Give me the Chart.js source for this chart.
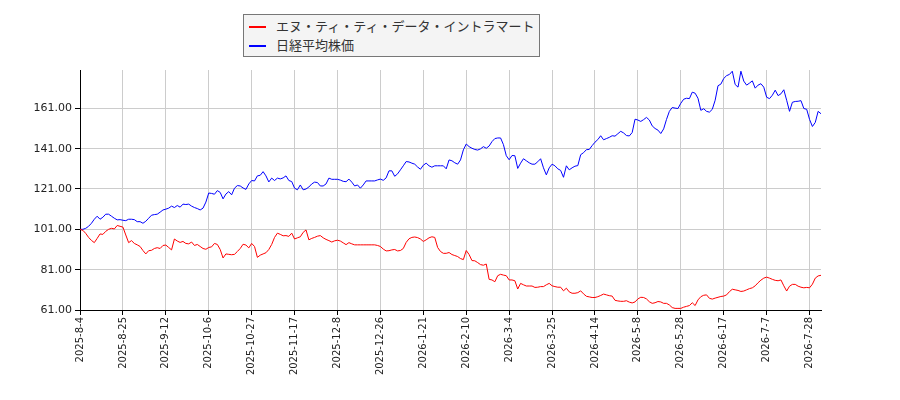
<!DOCTYPE html>
<html>
<head>
<meta charset="utf-8">
<script src="https://cdn.jsdelivr.net/npm/chart.js@4.4.1/dist/chart.umd.min.js"></script>
<style>
  body { margin: 0; background: #fff; }
  #wrap { position: relative; width: 900px; height: 400px; }
  #legend {
    position: absolute; left: 243px; top: 14px; width: 297px; height: 43px;
    box-sizing: border-box; border: 1px solid #777; background: #f4f4f4;
    font-family: "Noto Sans CJK JP", "Noto Sans", sans-serif; font-size: 13px; color: #333;
  }
  #legend .row { position: absolute; left: 5px; height: 18px; line-height: 18px; white-space: nowrap; }
  #legend .swatch { display: inline-block; width: 17px; height: 2px; vertical-align: middle; margin-right: 10px; }
</style>
</head>
<body>
<div id="wrap">
  <canvas id="chart" width="900" height="400"></canvas>
  <div id="legend"></div>
</div>
<script>
// ---------- DATA ----------
const seriesNames = ["エヌ・ティ・ティ・データ・イントラマート", "日経平均株価"];
const seriesColors = ["#ff0000", "#0000ff"];

const tickLabels = [
  "2025-8-4", "2025-8-25", "2025-9-12", "2025-10-6", "2025-10-27", "2025-11-17",
  "2025-12-8", "2025-12-26", "2026-1-21", "2026-2-10", "2026-3-4", "2026-3-25",
  "2026-4-14", "2026-5-8", "2026-5-28", "2026-6-17", "2026-7-7", "2026-7-28"
];
const tickStep = 15; // trading days between labels
const yTicks = [61, 81, 101, 121, 141, 161];

// NTT DATA INTRAMART (relative, start = 101)
const intramart = [
  101, 100.5, 99, 97, 95.5, 94.4, 96.5, 98.7, 98.5, 100,
  101, 101.5, 101.2, 102.9, 102.5, 102.1, 98.2, 94.4, 95.4, 94,
  93.3, 92.5, 90.5, 88.8, 90.4, 90.6, 91.5, 91.9, 91.5, 93,
  93.2, 92, 90.8, 96.2, 95.2, 94.5, 95, 94, 93.8, 94.7,
  93, 93.5, 92.5, 91.5, 91.1, 92, 92.3, 94, 93.5, 91,
  86.8, 88.8, 88.6, 88.4, 88.6, 90, 91.5, 93.6, 93.2, 91.8,
  94, 92.5, 87.1, 88.2, 88.8, 89.4, 91, 93.5, 97, 99.1,
  98.5, 97.8, 97.9, 97.5, 99.1, 96.2, 96.8, 97.3, 99.5, 100.7,
  95.8, 96.5, 97, 97.6, 97.9, 96.8, 96, 95.4, 94.7, 95.3,
  95.6, 95.2, 94.3, 93.4, 94.4, 93.8, 93.3, 93.3, 93.3, 93.3,
  93.3, 93.3, 93.3, 93.3, 93, 92.5, 91.2, 90.3, 90.4, 90.8,
  91, 90.3, 90.5, 91.5, 94.5, 96.3, 97, 97.2, 96.9, 96.2,
  95, 95.8, 96.8, 97.3, 97, 92, 90, 89.1, 89.1, 89.5,
  88.5, 88, 87.5, 86.5, 86, 90.5, 88.5, 85.5, 85.4, 84.5,
  83.5, 83.2, 83.8, 76.2, 75.9, 75, 78, 78.7, 78.3, 78,
  75.9, 75.9, 75.5, 71.4, 74.2, 73.5, 72.9, 72.9, 72.9, 72.2,
  72.3, 72.6, 72.6, 73.5, 74.2, 73, 72.6, 72.3, 72.3, 70.5,
  71.8, 70, 69.3, 69.3, 69.6, 70.5, 69, 67.8, 67.5, 67.2,
  67.2, 67.6, 68.2, 68.9, 68.5, 68.1, 67.9, 65.8, 65.5, 65.3,
  65.3, 65.6, 64.9, 64.5, 65, 66.5, 67.3, 67.2, 66.5, 65.1,
  64.3, 64.6, 65.2, 65, 64.3, 64.3, 63.5, 62.2, 61.8, 61.8,
  61.8, 62.4, 62.8, 63.2, 64.6, 63.2, 66, 67.6, 68.3, 68.5,
  66.8, 66.4, 66.9, 67.3, 67.7, 67.9, 68.5, 70.1, 71.3, 71,
  70.7, 70.2, 70.4, 71, 71.6, 72, 73, 74.5, 75.8, 76.8,
  77.3, 76.8, 76.2, 75.7, 75.5, 75.9, 73, 70.4, 72.8, 73.7,
  73.7, 72.8, 72.3, 72, 72.2, 72, 73.8, 76.8, 77.9, 78.2
];

// Nikkei 225 (relative, start = 101)
const nikkei = [
  101, 101, 101.5, 102.5, 104, 106, 107.5, 106, 107, 108.5,
  108.5, 107.5, 106.5, 105.7, 105.8, 105.5, 105.3, 106, 106, 105.8,
  104.8, 104.8, 104, 105, 106.5, 108, 108.3, 108.5, 109.5, 110.6,
  111, 111.5, 112.5, 111.8, 112.8, 112, 113.5, 113.3, 113.5, 112.5,
  111.8, 111.3, 110.6, 111.5, 114.5, 119, 118.8, 118.4, 120.2, 119.3,
  116.1, 118.5, 119.7, 118.1, 121.4, 122.7, 122.5, 121.5, 120.8, 123.5,
  125.2, 125, 127.5, 127.8, 129.6, 127.5, 124.5, 126.4, 125.2, 126.4,
  126, 126.5, 127.5, 125.2, 124.7, 121.4, 120.6, 123, 120.6, 121,
  122, 123.5, 124.4, 124.2, 122.5, 122.5, 123.5, 126.4, 125.8, 125.8,
  125.8, 125.4, 124.8, 124.6, 125.9, 124.4, 122.5, 123, 121.4, 123,
  125, 125, 125, 125, 125.5, 125.9, 125.3, 126.5, 130, 130,
  127.3, 128.5, 130.5, 132.5, 134.6, 134.4, 133.8, 133.3, 131.9, 130.8,
  132.8, 133.8, 132.5, 131.8, 132.5, 132.5, 132.5, 132.5, 131, 135.4,
  135, 134, 133.3, 135.4, 140.4, 143.3, 142, 141.2, 140.6, 140.3,
  140.9, 142, 141.2, 142.3, 144.5, 146, 146.3, 146.3, 143, 137.5,
  135.5, 137.6, 137.5, 131.2, 133.8, 136, 135, 134, 133.3, 133.3,
  134.5, 136, 131.5, 128, 131.5, 133.3, 132.5, 131, 130.2, 126.8,
  132.5, 130.5, 131.5, 132.3, 132.6, 138, 139, 140.5, 140.6, 142.5,
  144.2, 145.5, 147.4, 145.4, 146, 146.6, 147.4, 147.2, 148.4, 149.6,
  148.8, 147.5, 147.3, 149, 155.6, 155.2, 154.5, 155.4, 156.5, 155.2,
  152.3, 151, 150.2, 148.5, 150.8, 155.5, 159.5, 161.4, 161.1, 160.9,
  163.5, 165.5, 166, 165.8, 169, 168.5, 166, 160, 160.8, 159.5,
  159.1, 160.5, 165, 172.2, 173, 175.8, 177.2, 177.8, 179.4, 172.8,
  171.5, 179.4, 174.5, 172.5, 173.5, 174.6, 171, 172.5, 173.2, 171.5,
  166.5, 165.8, 167.5, 170, 167.3, 168.2, 170.2, 165, 159.5, 164,
  164.4, 164.5, 164.8, 160.9, 160.5, 155.5, 152, 154, 159.5, 158.3
];

// ---------- LEGEND (html) ----------
const legendEl = document.getElementById("legend");
seriesNames.forEach((name, i) => {
    const row = document.createElement("div");
    row.className = "row";
    row.style.top = (2 + i * 19) + "px";
    row.innerHTML = '<span class="swatch" style="background:' + seriesColors[i] + '"></span>' + name;
    legendEl.appendChild(row);
});

// ---------- CHART ----------
const toPoints = arr => arr.map((v, i) => ({ x: i, y: v }));
const tickFont = { family: "'DejaVu Sans', sans-serif", size: 11 };

new Chart(document.getElementById("chart").getContext("2d"), {
    type: "line",
    data: {
        datasets: [
            {
                label: seriesNames[0],
                data: toPoints(intramart),
                borderColor: seriesColors[0],
                borderWidth: 1,
                pointRadius: 0,
                tension: 0,
                fill: false
            },
            {
                label: seriesNames[1],
                data: toPoints(nikkei),
                borderColor: seriesColors[1],
                borderWidth: 1,
                pointRadius: 0,
                tension: 0,
                fill: false
            }
        ]
    },
    options: {
        responsive: false,
        animation: false,
        layout: { padding: { top: 70, right: 79, left: 0, bottom: 0 } },
        scales: {
            x: {
                type: "linear",
                min: 0,
                max: nikkei.length - 1,
                afterBuildTicks: scale => {
                    scale.ticks = tickLabels.map((_, k) => ({ value: k * tickStep }));
                },
                afterFit: scale => { scale.height = 90; },
                ticks: {
                    autoSkip: false,
                    minRotation: 90,
                    maxRotation: 90,
                    padding: 2,
                    color: "#222",
                    font: { family: "'DejaVu Sans', sans-serif", size: 10 },
                    callback: v => tickLabels[Math.round(v / tickStep)]
                },
                grid: { color: "#cccccc", tickColor: "#000", tickLength: 5 },
                border: { display: true, color: "#000", width: 1 }
            },
            y: {
                min: 61,
                max: 180,
                afterBuildTicks: scale => {
                    scale.ticks = yTicks.map(v => ({ value: v }));
                },
                afterFit: scale => { scale.width = 80; },
                ticks: {
                    padding: 3,
                    color: "#222",
                    font: tickFont,
                    callback: v => v.toFixed(2)
                },
                grid: { color: "#cccccc", tickColor: "#000", tickLength: 5 },
                border: { display: true, color: "#000", width: 1 }
            }
        },
        plugins: {
            legend: { display: false },
            tooltip: { enabled: false }
        }
    }
});
</script>
</body>
</html>
